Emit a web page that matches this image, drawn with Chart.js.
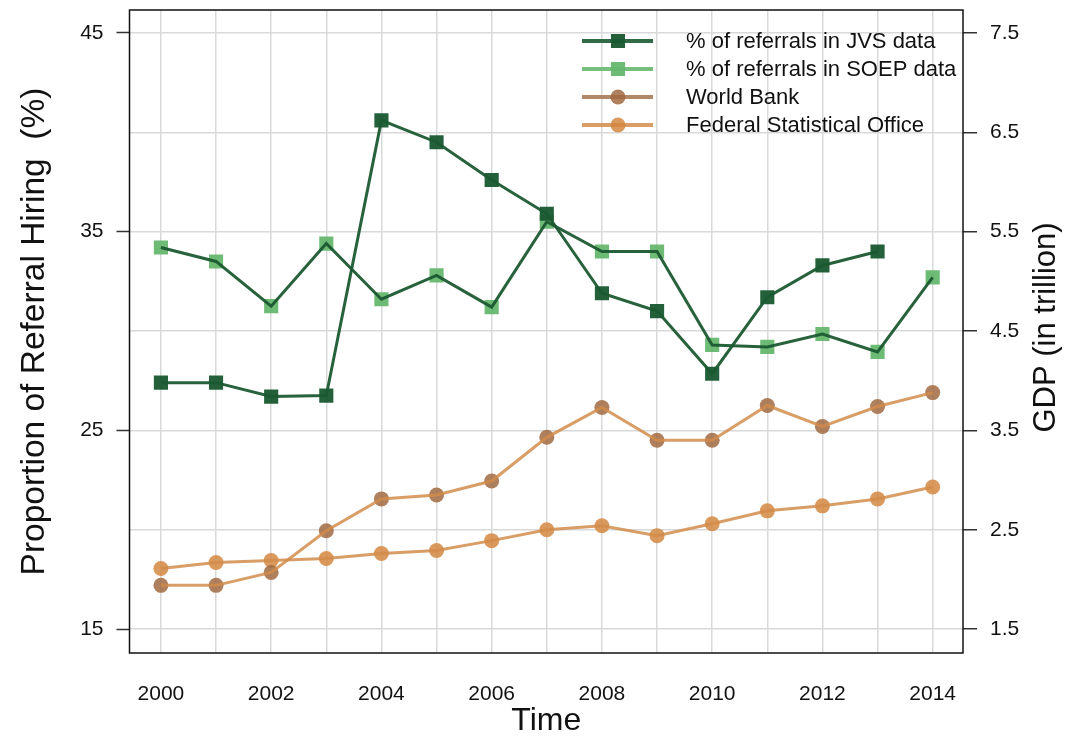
<!DOCTYPE html>
<html>
<head>
<meta charset="utf-8">
<script src="https://cdn.jsdelivr.net/npm/chart.js@4.4.1/dist/chart.umd.min.js"></script>
<style>
  html, body { margin: 0; padding: 0; background: #fff; }
  #wrap { width: 1071px; height: 740px; position: relative; }
</style>
</head>
<body>
<div id="wrap"><canvas id="referralChart"></canvas></div>
<script>
// values
const years = [2000, 2001, 2002, 2003, 2004, 2005, 2006, 2007, 2008, 2009, 2010, 2011, 2012, 2013, 2014];
const jvsShare = [27.4, 27.4, 26.7, 26.75, 40.6, 39.5, 37.6, 35.9, 31.9, 31.0, 27.85, 31.7, 33.3, 34.0, null];
const soepShare = [34.2, 33.5, 31.25, 34.4, 31.6, 32.8, 31.2, 35.5, 34.0, 34.0, 29.3, 29.2, 29.85, 28.95, 32.7];
const worldBankGdp = [1.94, 1.94, 2.07, 2.49, 2.81, 2.85, 2.99, 3.43, 3.73, 3.40, 3.40, 3.75, 3.54, 3.74, 3.88];
const destatisGdp = [2.11, 2.17, 2.19, 2.21, 2.26, 2.29, 2.39, 2.50, 2.54, 2.44, 2.56, 2.69, 2.74, 2.81, 2.93];
const leftTicks = [15, 25, 35, 45];
const rightTicks = [1.5, 2.5, 3.5, 4.5, 5.5, 6.5, 7.5];
const seriesNames = ['% of referrals in JVS data', '% of referrals in SOEP data', 'World Bank', 'Federal Statistical Office'];

const FONT = "'Liberation Sans', Arial, Helvetica, sans-serif";
Chart.defaults.font.family = FONT;
Chart.defaults.color = '#111';

const series = [
    { name: seriesNames[0], values: jvsShare, axis: 'y', shape: 'rect', radius: 10,
      marker: 'rgba(24,88,48,0.95)', line: 'rgba(27,90,50,0.95)', legendLine: 'rgba(27,90,50,0.9)' },
    { name: seriesNames[1], values: soepShare, axis: 'y', shape: 'rect', radius: 10,
      marker: 'rgba(102,183,110,0.95)', line: 'rgba(27,90,50,0.95)', legendLine: 'rgba(102,183,110,0.9)' },
    { name: seriesNames[2], values: worldBankGdp, axis: 'y2', shape: 'circle', radius: 7.5,
      marker: 'rgba(160,106,66,0.85)', line: 'rgba(210,140,75,0.85)', legendLine: 'rgba(165,115,75,0.85)' },
    { name: seriesNames[3], values: destatisGdp, axis: 'y2', shape: 'circle', radius: 7.5,
      marker: 'rgba(212,135,65,0.85)', line: 'rgba(210,140,75,0.85)', legendLine: 'rgba(212,140,75,0.85)' }
];

const toPoints = (values) => years.map((yr, i) => ({ x: yr, y: values[i] })).filter(p => p.y !== null);

const datasets = [];
series.forEach(s => {
    // markers underneath
    datasets.push({
        label: s.name,
        data: toPoints(s.values),
        yAxisID: s.axis,
        showLine: false,
        pointStyle: s.shape,
        pointRadius: s.radius,
        pointBackgroundColor: s.marker,
        pointBorderWidth: 0,
        order: 2
    });
    // line drawn over the markers
    datasets.push({
        label: s.name + ' line',
        data: toPoints(s.values),
        yAxisID: s.axis,
        borderColor: s.line,
        borderWidth: 3,
        pointRadius: 0,
        fill: false,
        tension: 0,
        order: 1
    });
});

const noPad = (scale) => {
    scale.paddingTop = 0;
    scale.paddingBottom = 0;
    scale.paddingLeft = 0;
    scale.paddingRight = 0;
};

const boxAndLegend = {
    id: 'boxAndLegend',
    afterDraw(chart) {
        const ctx = chart.ctx;
        const a = chart.chartArea;
        ctx.save();
        ctx.strokeStyle = '#111';
        ctx.lineWidth = 1.5;
        ctx.strokeRect(a.left, a.top, a.right - a.left, a.bottom - a.top);

        // right axis title reads bottom to top like the left one
        ctx.save();
        ctx.translate(1046, (a.top + a.bottom) / 2 - 4);
        ctx.rotate(-Math.PI / 2);
        ctx.font = '31px ' + FONT;
        ctx.fillStyle = '#111';
        ctx.textAlign = 'center';
        ctx.textBaseline = 'middle';
        ctx.fillText('GDP (in trillion)', 0, 0);
        ctx.restore();

        ctx.font = '22px ' + FONT;
        ctx.textBaseline = 'middle';
        ctx.textAlign = 'left';
        series.forEach((s, i) => {
            const y = 41 + i * 28;
            ctx.strokeStyle = s.legendLine;
            ctx.lineWidth = 4;
            ctx.beginPath();
            ctx.moveTo(582, y);
            ctx.lineTo(653, y);
            ctx.stroke();
            ctx.fillStyle = s.marker;
            if (s.shape === 'rect') {
                ctx.fillRect(611, y - 7, 14, 14);
            } else {
                ctx.beginPath();
                ctx.arc(618, y, 7.5, 0, Math.PI * 2);
                ctx.fill();
            }
            ctx.fillStyle = '#111';
            ctx.fillText(s.name, 686, y + 1);
        });
        ctx.restore();
    }
};

new Chart(document.getElementById('referralChart'), {
    type: 'line',
    data: { datasets },
    plugins: [boxAndLegend],
    options: {
        responsive: true,
        maintainAspectRatio: false,
        animation: false,
        layout: { padding: { top: 8, left: 0, right: 0, bottom: 0 } },
        plugins: { legend: { display: false }, tooltip: { enabled: false } },
        scales: {
            x: {
                type: 'linear',
                min: 1999.43,
                max: 2014.55,
                afterBuildTicks: (scale) => { scale.ticks = years.map(v => ({ value: v })); },
                afterFit: (scale) => { scale.height = 87; noPad(scale); },
                ticks: {
                    autoSkip: false,
                    maxRotation: 0,
                    padding: 29,
                    font: { size: 21 },
                    color: '#111',
                    callback: (v) => (v % 2 === 0 ? String(v) : '')
                },
                grid: { color: '#d9d9d9', lineWidth: 1.5, drawTicks: false },
                border: { display: false },
                title: { display: true, text: 'Time', font: { size: 32 }, color: '#111', padding: { top: 0, bottom: 0 } }
            },
            y: {
                position: 'left',
                min: 13.796,
                max: 46.154,
                afterBuildTicks: (scale) => { scale.ticks = leftTicks.map(v => ({ value: v })); },
                afterFit: (scale) => { scale.width = 129.5; noPad(scale); },
                ticks: { padding: 13, font: { size: 21 }, color: '#111' },
                grid: { drawOnChartArea: false, drawTicks: true, tickLength: 13, tickColor: '#333', tickWidth: 1.5 },
                border: { display: false },
                title: { display: true, text: 'Proportion of Referral Hiring  (%)', font: { size: 33.5 }, color: '#111', padding: { top: 15, bottom: 0 } }
            },
            y2: {
                position: 'right',
                min: 1.259,
                max: 7.731,
                afterBuildTicks: (scale) => { scale.ticks = rightTicks.map(v => ({ value: v })); },
                afterFit: (scale) => { scale.width = 108; noPad(scale); },
                ticks: { padding: 13, font: { size: 21 }, color: '#111', callback: (v) => v.toFixed(1) },
                grid: { color: '#d9d9d9', lineWidth: 1.5, drawTicks: true, tickLength: 14, tickColor: '#333', tickWidth: 1.5 },
                border: { display: false }
            }
        }
    }
});
</script>
</body>
</html>
